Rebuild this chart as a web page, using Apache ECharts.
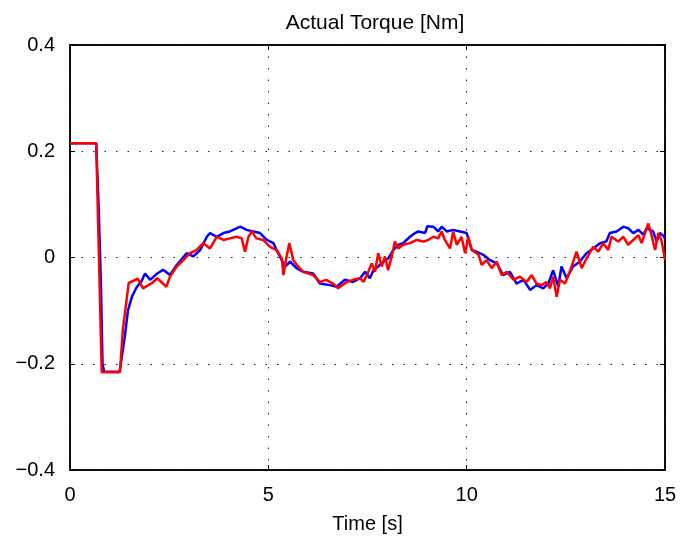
<!DOCTYPE html>
<html>
<head>
<meta charset="utf-8">
<script src="https://cdn.jsdelivr.net/npm/echarts@6/dist/echarts.min.js"></script>
<style>html,body{margin:0;padding:0;background:#fff}#c{width:692px;height:536px}</style>
</head>
<body>
<div id="c"></div>
<script>
var titleText = 'Actual Torque [Nm]';
var xName = 'Time [s]';
var xTicks = [0, 5, 10, 15];
var yTicks = [-0.4, -0.2, 0, 0.2, 0.4];

var blueT = [0,0.66,0.72,0.78,0.82,0.86,1.25,1.30,1.38,1.46,1.56,1.68,1.80,1.89,2.02,2.20,2.35,2.52,2.69,2.94,3.11,3.28,3.45,3.53,3.70,3.87,4.03,4.20,4.29,4.45,4.62,4.79,4.96,5.13,5.21,5.34,5.42,5.55,5.71,5.88,6.13,6.30,6.55,6.72,6.93,7.14,7.31,7.44,7.56,7.65,7.77,7.90,8.02,8.15,8.28,8.40,8.57,8.70,8.78,8.95,9.01,9.16,9.28,9.37,9.50,9.66,9.83,10.00,10.13,10.25,10.42,10.59,10.76,10.92,11.09,11.26,11.43,11.60,11.76,11.93,12.06,12.18,12.31,12.39,12.52,12.68,12.85,13.02,13.19,13.36,13.52,13.61,13.78,13.95,14.07,14.20,14.33,14.45,14.54,14.70,14.79,14.87,14.97,15.0];
var blueV = [0.215,0.215,0.10,-0.05,-0.20,-0.215,-0.215,-0.19,-0.15,-0.10,-0.074,-0.056,-0.045,-0.03,-0.042,-0.03,-0.023,-0.033,-0.014,0.008,0.002,0.014,0.039,0.046,0.039,0.046,0.049,0.055,0.058,0.052,0.049,0.046,0.033,0.027,0.014,-0.005,-0.017,-0.008,-0.020,-0.027,-0.030,-0.049,-0.052,-0.055,-0.042,-0.046,-0.039,-0.027,-0.039,-0.024,-0.017,-0.008,-0.002,0.014,0.024,0.027,0.039,0.046,0.049,0.046,0.059,0.058,0.049,0.058,0.049,0.052,0.049,0.046,0.014,0.011,0.005,-0.005,-0.011,-0.033,-0.027,-0.049,-0.042,-0.061,-0.052,-0.058,-0.049,-0.024,-0.055,-0.017,-0.039,-0.017,-0.008,0.008,0.017,0.027,0.030,0.046,0.049,0.058,0.055,0.046,0.052,0.043,0.055,0.049,0.030,0.046,0.040,0.035];

var redT = [0,0.66,0.80,1.26,1.33,1.48,1.71,1.84,2.07,2.20,2.43,2.52,2.69,2.86,3.02,3.19,3.36,3.53,3.70,3.87,4.03,4.20,4.33,4.41,4.50,4.58,4.70,4.87,5.04,5.21,5.34,5.38,5.46,5.53,5.63,5.75,5.88,6.13,6.30,6.46,6.63,6.76,6.98,7.14,7.31,7.40,7.52,7.61,7.69,7.77,7.86,7.94,8.02,8.11,8.19,8.28,8.40,8.57,8.74,8.91,9.03,9.16,9.28,9.37,9.45,9.58,9.66,9.75,9.87,9.96,10.04,10.13,10.30,10.38,10.50,10.63,10.76,10.88,11.01,11.18,11.34,11.51,11.64,11.76,11.89,12.01,12.10,12.18,12.27,12.35,12.48,12.60,12.77,12.90,13.02,13.19,13.32,13.44,13.57,13.65,13.82,13.95,14.07,14.20,14.33,14.41,14.58,14.66,14.75,14.83,14.91,15.0];
var redV = [0.215,0.215,-0.216,-0.216,-0.137,-0.048,-0.040,-0.058,-0.048,-0.039,-0.055,-0.036,-0.017,-0.005,0.008,0.014,0.027,0.017,0.039,0.033,0.036,0.039,0.036,0.011,0.039,0.049,0.036,0.033,0.020,0.014,-0.002,-0.033,0.002,0.027,-0.005,-0.017,-0.027,-0.033,-0.046,-0.042,-0.049,-0.058,-0.046,-0.042,-0.039,-0.046,-0.027,-0.011,-0.027,0.008,-0.017,0.002,-0.024,0.002,0.030,0.017,0.024,0.027,0.033,0.030,0.033,0.039,0.036,0.049,0.033,0.017,0.049,0.024,0.039,0.008,0.039,0.014,0.005,-0.014,-0.005,-0.020,-0.008,-0.033,-0.027,-0.042,-0.036,-0.046,-0.033,-0.049,-0.052,-0.046,-0.058,-0.036,-0.074,-0.042,-0.049,-0.027,0.011,-0.020,-0.002,0.020,0.011,0.027,0.014,0.039,0.030,0.039,0.024,0.033,0.042,0.027,0.064,0.042,0.014,0.046,0.033,-0.004];

function pairs(t, v) { return t.map(function (x, i) { return [x, v[i]]; }); }
function fmtY(v) { var s = (Math.round(v * 10) / 10).toString(); return s.replace('-', '\u2212'); }

var font = 'Liberation Sans, Arial, sans-serif';
var chart = echarts.init(document.getElementById('c'), null, { renderer: 'canvas' });
var dotted = { color: '#222', width: 1, type: [1.5, 10] };
var tick = { show: true, inside: true, length: 5, lineStyle: { color: '#000', width: 1 } };
var line = { show: true, onZero: false, lineStyle: { color: '#000', width: 1.5 } };
chart.setOption({
  animation: false,
  title: { text: titleText, left: 370, top: 8, textAlign: 'center',
    textStyle: { fontFamily: font, fontSize: 21, fontWeight: 'normal', color: '#000' } },
  grid: { left: 70, right: 27, top: 45, bottom: 66, outerBoundsMode: 'none', containLabel: false,
    show: true, borderColor: '#000', borderWidth: 1.5, backgroundColor: '#fff' },
  xAxis: [{
    type: 'value', min: 0, max: 15, interval: 5, position: 'bottom',
    name: xName, nameLocation: 'middle', nameGap: 44,
    nameTextStyle: { fontFamily: font, fontSize: 20, color: '#000' },
    axisLine: line, axisTick: tick,
    axisLabel: { fontFamily: font, fontSize: 20, color: '#000', margin: 15 },
    splitLine: { show: true, lineStyle: dotted }
  }, {
    type: 'value', min: 0, max: 15, interval: 5, position: 'top',
    axisLine: line, axisTick: tick,
    axisLabel: { show: false }, splitLine: { show: false }
  }],
  yAxis: [{
    type: 'value', min: -0.4, max: 0.4, interval: 0.2, position: 'left',
    axisLine: line, axisTick: tick,
    axisLabel: { fontFamily: font, fontSize: 20, color: '#000', margin: 15, formatter: fmtY },
    splitLine: { show: true, lineStyle: dotted }
  }, {
    type: 'value', min: -0.4, max: 0.4, interval: 0.2, position: 'right',
    axisLine: line, axisTick: tick,
    axisLabel: { show: false }, splitLine: { show: false }
  }],
  series: [{
    type: 'line', data: pairs(blueT, blueV), showSymbol: false, symbol: 'none',
    lineStyle: { color: '#0000ff', width: 2.5 }, z: 3
  }, {
    type: 'line', data: pairs(redT, redV), showSymbol: false, symbol: 'none',
    lineStyle: { color: '#ff0000', width: 2.5 }, z: 4
  }]
});
</script>
</body>
</html>
